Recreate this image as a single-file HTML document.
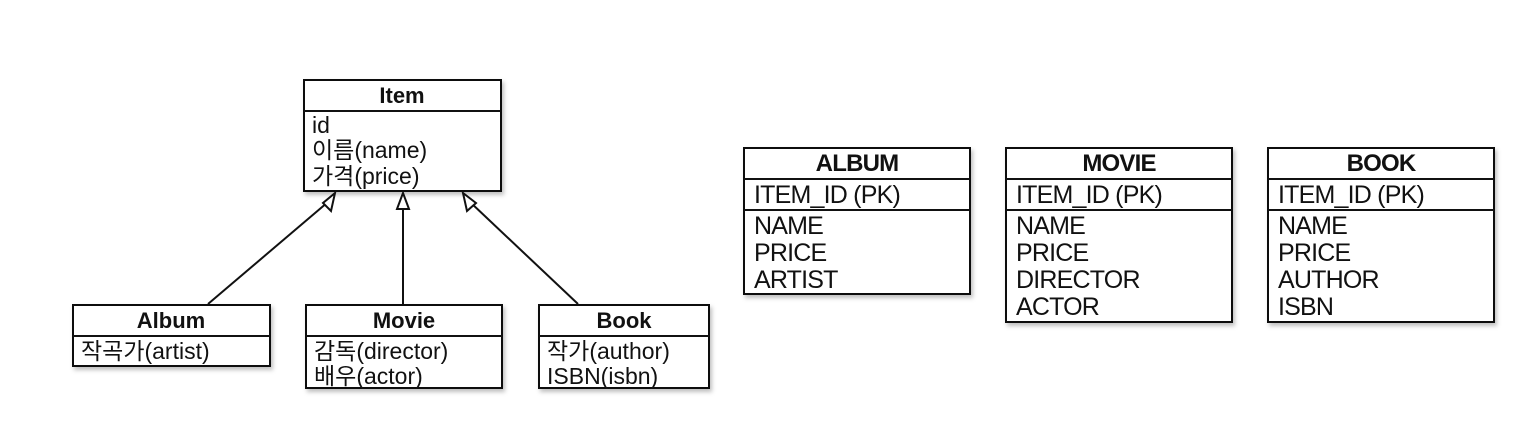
<!DOCTYPE html>
<html><head><meta charset="utf-8"><style>
html,body{margin:0;padding:0;background:#fff;}
svg text{font-family:"Liberation Sans","Noto Sans CJK KR",sans-serif;fill:#111;}
</style></head><body>
<svg width="1537" height="440" viewBox="0 0 1537 440" xmlns="http://www.w3.org/2000/svg">
<defs>
<filter id="sh" x="-5%" y="-5%" width="115%" height="120%"><feDropShadow dx="2" dy="3" stdDeviation="2" flood-color="#000" flood-opacity="0.25"/></filter>
</defs>
<g stroke="#111" stroke-width="2" fill="#fff">
<rect x="304" y="80" width="197" height="111" filter="url(#sh)"/>
<line x1="304" y1="111" x2="501" y2="111"/>
<rect x="73" y="305" width="197" height="61" filter="url(#sh)"/>
<line x1="73" y1="336" x2="270" y2="336"/>
<rect x="306" y="305" width="196" height="83" filter="url(#sh)"/>
<line x1="306" y1="336" x2="502" y2="336"/>
<rect x="539" y="305" width="170" height="83" filter="url(#sh)"/>
<line x1="539" y1="336" x2="709" y2="336"/>
<line x1="208" y1="304" x2="328" y2="202" fill="none"/>
<polygon points="335,193 323,203 331,211"/>
<line x1="403" y1="304" x2="403" y2="208" fill="none"/>
<polygon points="403,193 397,209 409,209"/>
<line x1="578" y1="304" x2="470" y2="202" fill="none"/>
<polygon points="463,193 467,211 476,203"/>
<rect x="744" y="148" width="226" height="146" filter="url(#sh)"/>
<line x1="744" y1="179" x2="970" y2="179"/>
<line x1="744" y1="210" x2="970" y2="210"/>
<rect x="1006" y="148" width="226" height="174" filter="url(#sh)"/>
<line x1="1006" y1="179" x2="1232" y2="179"/>
<line x1="1006" y1="210" x2="1232" y2="210"/>
<rect x="1268" y="148" width="226" height="174" filter="url(#sh)"/>
<line x1="1268" y1="179" x2="1494" y2="179"/>
<line x1="1268" y1="210" x2="1494" y2="210"/>
</g>
<g font-size="23">
<text x="402" y="103" text-anchor="middle" font-weight="bold" font-size="22">Item</text>
<text x="312" y="133">id</text>
<text x="312" y="158">이름(name)</text>
<text x="312" y="184">가격(price)</text>
<text x="171" y="328" text-anchor="middle" font-weight="bold" font-size="22">Album</text>
<text x="81" y="359">작곡가(artist)</text>
<text x="404" y="328" text-anchor="middle" font-weight="bold" font-size="22">Movie</text>
<text x="314" y="359">감독(director)</text>
<text x="314" y="384">배우(actor)</text>
<text x="624" y="328" text-anchor="middle" font-weight="bold" font-size="22">Book</text>
<text x="547" y="359">작가(author)</text>
<text x="547" y="384">ISBN(isbn)</text>
</g>
<g font-size="25" letter-spacing="-0.8">
<text x="857" y="171" text-anchor="middle" font-weight="bold" font-size="24">ALBUM</text>
<text x="754" y="203">ITEM_ID (PK)</text>
<text x="754" y="234">NAME</text>
<text x="754" y="261">PRICE</text>
<text x="754" y="288">ARTIST</text>
<text x="1119" y="171" text-anchor="middle" font-weight="bold" font-size="24">MOVIE</text>
<text x="1016" y="203">ITEM_ID (PK)</text>
<text x="1016" y="234">NAME</text>
<text x="1016" y="261">PRICE</text>
<text x="1016" y="288">DIRECTOR</text>
<text x="1016" y="315">ACTOR</text>
<text x="1381" y="171" text-anchor="middle" font-weight="bold" font-size="24">BOOK</text>
<text x="1278" y="203">ITEM_ID (PK)</text>
<text x="1278" y="234">NAME</text>
<text x="1278" y="261">PRICE</text>
<text x="1278" y="288">AUTHOR</text>
<text x="1278" y="315">ISBN</text>
</g>
</svg>
</body></html>
